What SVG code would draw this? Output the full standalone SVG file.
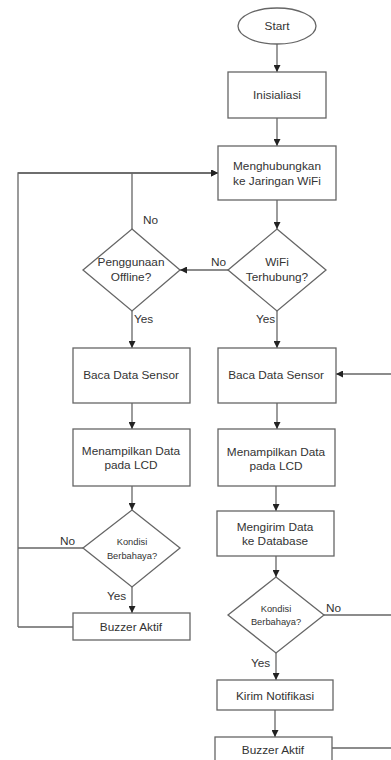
<svg xmlns="http://www.w3.org/2000/svg" width="391" height="760" viewBox="0 0 391 760">
<defs>
<marker id="arr" viewBox="0 0 10 10" refX="10" refY="5" markerWidth="7" markerHeight="7" markerUnits="userSpaceOnUse" orient="auto">
<path d="M0,0 L10,5 L0,10 z" fill="#222"/>
</marker>
<style>
.n{fill:#fff;stroke:#666;stroke-width:1.3}
.c{fill:none;stroke:#666;stroke-width:1.3}
.a{marker-end:url(#arr)}
text{font-family:"Liberation Sans",Arial,sans-serif;font-size:11.8px;fill:#333;text-anchor:middle}
.s{font-size:9.3px}
.l{text-anchor:start}
</style>
</defs>
<rect width="391" height="760" fill="#fff"/>
<g id="connectors">
<path class="c a" d="M277,44 V72"/>
<path class="c a" d="M277,118 V146"/>
<path class="c a" d="M277,200 V229"/>
<path class="c a" d="M228,270 H180"/>
<path class="c a" d="M132,229 V173 H18 M132,173 H218"/>
<path class="c a" d="M18,627 V173 H218"/>
<path class="c" d="M73,627 H18"/>
<path class="c a" d="M132,311 V348"/>
<path class="c a" d="M277,311 V348"/>
<path class="c a" d="M132,403 V429"/>
<path class="c a" d="M277,403 V429"/>
<path class="c a" d="M132,486 V510"/>
<path class="c" d="M83,548 H18"/>
<path class="c a" d="M132,587 V613"/>
<path class="c a" d="M276,486 V511"/>
<path class="c a" d="M276,556 V577"/>
<path class="c" d="M324,615 H391"/>
<path class="c a" d="M391,374 H336"/>
<path class="c a" d="M276,653 V680"/>
<path class="c a" d="M275,710 V737"/>
<path class="c" d="M332,748 H391"/>
<text x="143" y="224" class="l">No</text>
<text x="211" y="266" class="l">No</text>
<text x="134" y="323" class="l">Yes</text>
<text x="256" y="323" class="l">Yes</text>
<text x="60" y="545" class="l">No</text>
<text x="107" y="600" class="l">Yes</text>
<text x="326" y="612" class="l">No</text>
<text x="251" y="667" class="l">Yes</text>
</g>
<g id="start"><ellipse class="n" cx="277" cy="26" rx="39" ry="18"/><text x="277" y="30">Start</text></g>
<g id="init"><rect class="n" x="228" y="72" width="98" height="46"/><text x="277" y="99">Inisialiasi</text></g>
<g id="connect"><rect class="n" x="218" y="146" width="118" height="54"/><text x="277" y="170">Menghubungkan</text><text x="277" y="185">ke Jaringan WiFi</text></g>
<g id="wifi"><polygon class="n" points="277,229 326,270 277,311 228,270"/><text x="277" y="266">WiFi</text><text x="277" y="281">Terhubung?</text></g>
<g id="offline"><polygon class="n" points="132,229 180,270 132,311 83,270"/><text x="131" y="266">Penggunaan</text><text x="131" y="281">Offline?</text></g>
<g id="baca-l"><rect class="n" x="73" y="348" width="117" height="55"/><text x="131" y="379">Baca Data Sensor</text></g>
<g id="baca-r"><rect class="n" x="218" y="348" width="118" height="55"/><text x="276" y="379">Baca Data Sensor</text></g>
<g id="lcd-l"><rect class="n" x="73" y="429" width="117" height="57"/><text x="131" y="455">Menampilkan Data</text><text x="131" y="469">pada LCD</text></g>
<g id="lcd-r"><rect class="n" x="218" y="429" width="117" height="57"/><text x="276" y="456">Menampilkan Data</text><text x="276" y="470">pada LCD</text></g>
<g id="kondisi-l"><polygon class="n" points="132,510 180,548 132,587 83,548"/><text x="132" y="545" class="s">Kondisi</text><text x="132" y="559" class="s">Berbahaya?</text></g>
<g id="buzzer-l"><rect class="n" x="73" y="613" width="117" height="27"/><text x="131" y="631">Buzzer Aktif</text></g>
<g id="db"><rect class="n" x="217" y="511" width="117" height="45"/><text x="275" y="531">Mengirim Data</text><text x="275" y="545">ke Database</text></g>
<g id="kondisi-r"><polygon class="n" points="276,577 324,615 276,653 228,615"/><text x="276" y="612" class="s">Kondisi</text><text x="276" y="625" class="s">Berbahaya?</text></g>
<g id="notif"><rect class="n" x="217" y="680" width="116" height="30"/><text x="275" y="700">Kirim Notifikasi</text></g>
<g id="buzzer-r"><rect class="n" x="215" y="737" width="117" height="30"/><text x="273" y="754">Buzzer Aktif</text></g>
</svg>
